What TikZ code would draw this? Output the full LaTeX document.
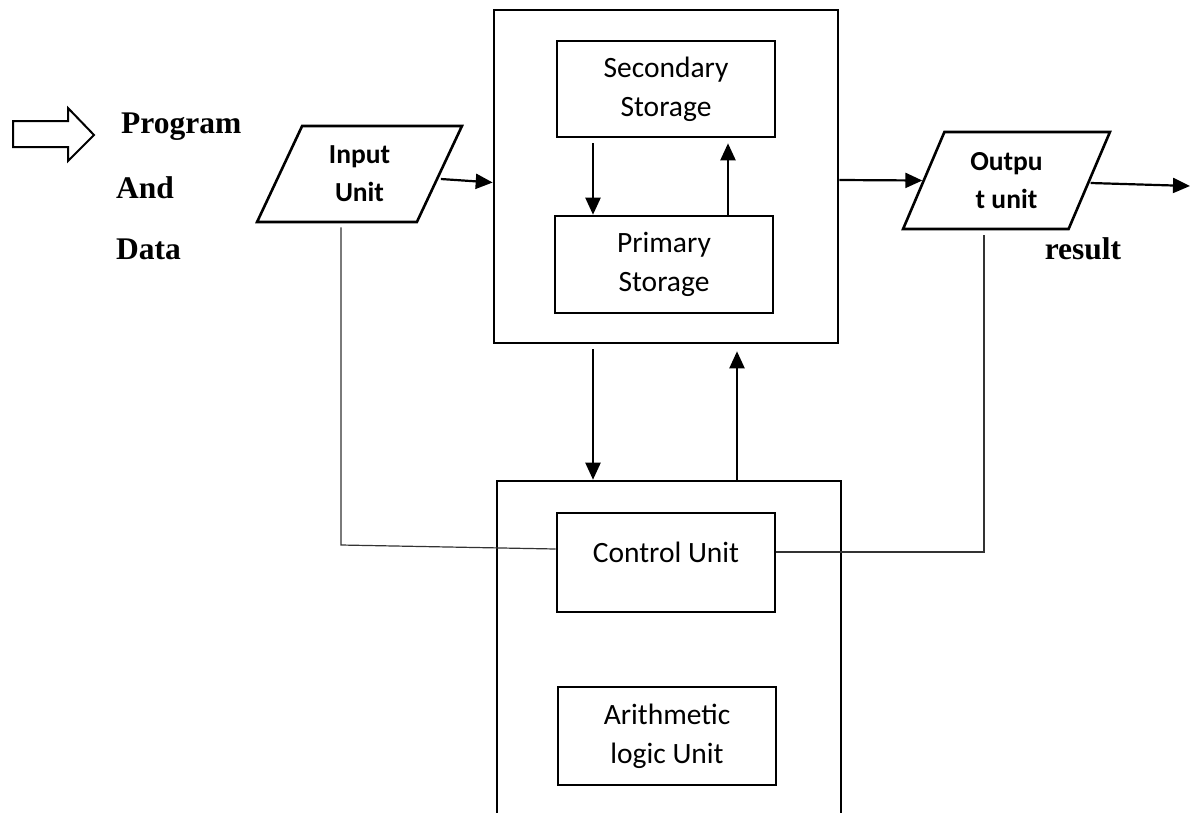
\documentclass[tikz,border=0pt]{standalone}
\usepackage{fontspec}
\setmainfont{Liberation Serif}
\setsansfont{Carlito}
\usetikzlibrary{shapes.geometric,arrows.meta,calc}
\begin{document}
\begin{tikzpicture}[x=1pt,y=-1pt,
  outerbox/.style={draw, line width=2.6pt, inner sep=0pt},
  unitbox/.style={draw, line width=2.6pt, inner sep=0pt, align=center,
    font=\sffamily\fontsize{29.5}{39}\selectfont},
  para/.style={draw, line width=2.6pt, inner sep=0pt, align=center,
    shape=trapezium, trapezium left angle=66.8, trapezium right angle=113.2,
    trapezium stretches=true,
    font=\sffamily\bfseries\fontsize{27.5}{38}\selectfont},
  lbl/.style={inner sep=0pt, font=\rmfamily\bfseries\fontsize{31.5}{37}\selectfont},
  arr/.style={line width=2.2pt, -{Triangle[length=17pt,width=15pt]}},
  thinline/.style={line width=1.2pt, draw=black!80}
]
\clip (0,0) rectangle (1199,812);
\fill[white] (0,0) rectangle (1199,812);

% memory block
\node[outerbox, minimum width=344, minimum height=333] (mem) at (666,176.5) {};
\node[unitbox, minimum width=218, minimum height=96] (sec) at (666,89) {Secondary\\Storage};
\node[unitbox, minimum width=218, minimum height=97] (prim) at (664,264.5) {Primary\\Storage};

% CPU block
\node[outerbox, minimum width=344, minimum height=420] (cpu) at (669,691) {};
\node[unitbox, minimum width=218, minimum height=99] (cu) at (666,562.5) {};
\node[inner sep=0pt, font=\sffamily\fontsize{29.5}{39}\selectfont] (cut) at (666,552) {Control Unit};
\node[unitbox, minimum width=218, minimum height=98] (alu) at (667,736) {Arithmetic\\logic Unit};

% input / output
\node[para, minimum width=205, minimum height=96] (in) at (359.5,174) {Input\\Unit};
\node[para, minimum width=207, minimum height=97] (out) at (1006.5,180.5) {Outpu\\t unit};

% block arrow
\draw[line width=2pt] (13,121) -- (68,121) -- (68,108) -- (94,135) -- (68,161) -- (68,147) -- (13,147) -- cycle;

% labels
\node[lbl, anchor=west] (prog) at (121,127) {Program};
\node[lbl, anchor=west] (and) at (116,188) {And};
\node[lbl, anchor=west] (data) at (116,249) {Data};
\node[lbl] (result) at (1083,249) {result};

% coordinates
\coordinate (a1) at (593,0);
\coordinate (a2) at (728,0);
\coordinate (a3) at (737,0);
\coordinate (res) at (1190,186);
\coordinate (b2) at (341,545);
\coordinate (b3) at (984,552);

% arrows
\draw[arr] ([yshift=-5]in.east) -- ([yshift=-6]mem.west);
\draw[arr] ([yshift=-3.5]mem.east) -- (out.west);
\draw[arr] ([yshift=-2.5]out.east) -- (res);
\draw[arr] ([yshift=-5]sec.south -| a1) -- (prim.north -| a1);
\draw[arr] (prim.north -| a2) -- ([yshift=-5]sec.south -| a2);
\draw[arr] ([yshift=-5]mem.south -| a1) -- (cpu.north -| a1);
\draw[arr] (cpu.north -| a3) -- ([yshift=-7]mem.south -| a3);

% thin control lines
\draw[thinline] ([yshift=-4]in.south -| b2) -- (b2) -- ([yshift=13.5]cu.west);
\draw[thinline] ([yshift=10.5]cu.east) -- (b3) -- ([yshift=-5]out.south -| b3);
\end{tikzpicture}
\end{document}
